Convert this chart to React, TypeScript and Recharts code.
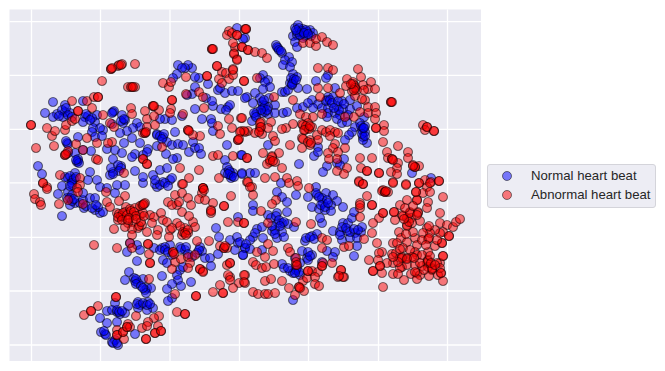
import React from "react";
import { ScatterChart, Scatter, XAxis, YAxis, ZAxis, CartesianGrid } from "recharts";

type P = [number, number];

const normalBeats: P[] = [
[53,102],[45,113],[57,114],[53,117],[65,105],[65,112],[70,113],[63,117],[83,101],[85,117],[88,116],[83,122],[97,115],[95,122],[113,112],[122,115],[125,120],[123,123],[137,123],[140,127],[133,128],[127,131],[120,133],[132,138],[112,124],[103,130],[100,128],[93,128],[92,132],[95,137],[102,136],[78,137],[67,143],[68,153],[75,153],[83,150],[91,151],[78,161],[77,162],[38,166],[42,174],[107,149],[115,150],[124,143],[113,159],[121,166],[122,153],[140,143],[135,154],[132,157],[148,149],[157,134],[163,137],[175,132],[165,119],[172,120],[160,119],[182,116],[166,154],[157,146],[167,142],[172,145],[178,144],[183,145],[193,142],[189,152],[195,148],[199,148],[201,154],[177,158],[173,159],[202,119],[211,119],[212,123],[213,131],[227,145],[225,160],[227,167],[225,173],[230,175],[233,173],[241,155],[242,173],[229,170],[231,178],[213,106],[221,109],[228,107],[230,105],[192,94],[195,87],[187,95],[206,98],[195,109],[218,90],[225,93],[232,91],[238,91],[208,84],[199,78],[192,68],[188,65],[185,68],[178,65],[182,68],[177,74],[173,78],[195,77],[220,88],[237,28],[245,38],[243,39],[157,187],[163,182],[170,180],[143,183],[135,171],[143,177],[153,175],[160,170],[167,168],[172,178],[125,185],[117,185],[113,172],[110,175],[97,180],[90,172],[88,180],[72,180],[68,178],[75,173],[65,177],[62,186],[72,185],[100,187],[107,188],
[295,28],[298,25],[303,29],[310,30],[313,33],[293,36],[297,35],[302,33],[305,36],[311,36],[295,42],[297,47],[303,38],[297,32],[307,32],[276,45],[278,48],[282,53],[289,57],[285,60],[292,62],[283,65],[290,67],[293,74],[297,77],[290,83],[293,82],[298,88],[307,89],[282,92],[285,92],[288,90],[292,85],[328,75],[326,78],[316,81],[263,75],[260,78],[268,80],[265,82],[270,87],[263,89],[255,93],[247,97],[245,98],[260,98],[263,105],[253,103],[275,105],[263,108],[257,112],[255,115],[252,121],[268,107],[268,114],[275,113],[283,113],[287,112],[262,113],[265,112],[269,98],[297,108],[303,107],[312,100],[308,103],[318,104],[322,108],[313,108],[328,97],[333,97],[327,100],[335,88],[342,101],[350,100],[337,106],[343,109],[350,109],[357,106],[328,108],[328,113],[335,113],[327,117],[340,115],[337,119],[348,115],[342,123],[347,122],[364,117],[360,123],[365,126],[355,127],[352,132],[362,130],[365,132],[363,137],[367,143],[363,140],[349,135],[345,140],[268,145],[318,147],[314,156],[318,152],[299,164],[344,159],[337,163],[340,165],[327,166],[323,172],[250,173],[255,173],[242,174],[412,173],[431,178],[281,183],[316,187],[242,155],
[58,194],[68,192],[72,195],[67,198],[75,203],[70,205],[80,203],[83,200],[84,208],[90,198],[95,198],[95,210],[100,213],[103,212],[98,207],[62,216],[115,193],[83,193],[130,243],[137,245],[140,250],[127,252],[137,261],[129,272],[134,278],[125,280],[135,281],[143,279],[138,283],[147,288],[145,290],[151,288],[146,293],[154,248],[162,248],[170,245],[165,247],[180,247],[185,250],[200,247],[202,251],[197,253],[163,260],[167,263],[172,255],[180,270],[183,267],[192,257],[205,258],[210,258],[211,266],[162,276],[177,275],[178,280],[172,284],[167,289],[181,286],[191,282],[172,298],[168,301],[216,228],[219,237],[230,240],[237,237],[238,243],[235,250],[243,255],[218,254],[245,248],[238,217],[115,303],[128,306],[138,302],[140,305],[148,302],[153,308],[147,310],[138,308],[107,311],[112,310],[117,312],[120,314],[125,313],[100,318],[107,323],[117,322],[101,332],[105,334],[135,334],[112,342],[118,345],[115,340],
[308,197],[317,195],[326,193],[333,195],[337,201],[343,207],[312,207],[319,209],[323,203],[325,210],[331,205],[331,211],[322,198],[327,200],[277,192],[282,197],[287,202],[296,195],[253,205],[253,211],[268,215],[277,213],[287,212],[278,223],[282,223],[288,224],[272,231],[275,230],[282,232],[294,227],[277,238],[284,237],[257,229],[253,237],[262,227],[240,242],[245,248],[250,249],[263,238],[262,250],[243,255],[305,241],[312,236],[317,234],[322,223],[320,218],[302,251],[312,255],[307,258],[295,258],[308,260],[300,263],[327,251],[335,252],[333,257],[322,262],[282,264],[290,271],[293,273],[300,275],[297,268],[333,231],[340,232],[343,223],[348,223],[352,218],[354,212],[347,231],[355,233],[361,232],[362,227],[342,240],[350,238],[357,238],[357,246],[354,256],[293,300],[340,235],
[62,110],[66,108],[68,115],[72,117],[59,116],[86,114],[92,118],[90,120],[114,111],[112,113],[121,121],[124,119],[157,135],[160,136],[164,134],[162,139],[68,144],[66,141],[78,159],[79,163],[76,160],[111,168],[118,165],[121,168],[119,171],[113,174],[70,176],[74,179],[72,183],[70,186],[76,177],[143,155],[147,152],[155,184],[160,185],[165,183],[168,186],[155,180],[230,172],[232,176],[228,174],[234,177],[299,28],[302,31],[306,30],[300,35],[304,33],[296,30],[308,34],[277,47],[279,50],[281,51],[291,78],[294,79],[292,84],[296,80],[262,102],[265,106],[267,110],[261,110],[264,100],[254,113],[256,117],[326,101],[330,100],[332,103],[338,101],[344,104],[339,110],[334,108],[361,126],[363,128],[362,134],[365,136],[364,128],[70,198],[72,201],[74,199],[86,206],[92,208],[96,205],[117,310],[119,312],[122,311],[137,304],[143,303],[147,305],[150,304],[106,335],[104,331],[113,343],[117,343],[316,193],[319,197],[321,205],[325,207],[328,203],[271,218],[276,216],[279,220],[284,222],[280,226],[306,238],[310,237],[314,239],[308,252],[310,256],[342,227],[346,228],[350,232],[354,229],[358,230],[296,270],[299,272],[295,273],[136,279],[136,284],[141,286],[143,288],[160,250],[165,250],[168,252],[181,249],[186,247],[188,254],[199,250],[272,226],[275,234],[255,233],[250,240],[246,244],[284,268],[288,268],[212,101],[226,110]
];

const abnormalBeats: P[] = [
[31,125],[36,148],[54,146],[52,136],[55,131],[47,128],[65,130],[66,125],[72,121],[75,119],[72,101],[87,101],[94,97],[98,97],[92,108],[78,111],[103,115],[102,81],[111,69],[118,66],[122,64],[135,64],[128,87],[132,87],[135,87],[131,108],[132,114],[145,111],[153,106],[159,110],[147,119],[154,116],[147,127],[155,125],[145,133],[143,133],[171,109],[172,100],[170,113],[183,114],[163,83],[169,87],[171,82],[186,94],[199,92],[203,97],[204,108],[186,77],[207,76],[217,66],[212,49],[222,72],[226,73],[219,79],[222,83],[229,79],[233,69],[233,75],[244,81],[237,59],[234,53],[235,47],[242,47],[233,43],[248,50],[229,31],[227,35],[232,33],[237,35],[246,29],[188,130],[200,136],[193,135],[218,126],[220,134],[229,119],[241,118],[232,128],[241,131],[248,131],[238,140],[245,132],[213,156],[218,155],[233,156],[247,158],[199,170],[180,168],[189,178],[182,184],[203,188],[219,178],[247,182],[65,155],[68,151],[76,144],[87,138],[97,143],[83,150],[96,159],[98,160],[112,142],[108,143],[110,123],[114,127],[143,159],[147,164],[162,147],[124,173],[60,175],[80,178],[80,185],[77,188],[43,183],[47,187],
[245,29],[242,47],[248,50],[255,52],[262,53],[267,58],[303,43],[310,43],[316,46],[316,39],[322,37],[327,42],[333,45],[318,68],[328,68],[333,70],[358,69],[361,77],[347,79],[353,82],[355,86],[357,90],[352,91],[346,86],[363,85],[371,82],[368,89],[375,89],[364,90],[355,96],[318,88],[328,88],[340,93],[320,97],[365,100],[362,99],[293,100],[391,102],[368,107],[375,107],[368,113],[376,113],[360,112],[322,114],[345,117],[354,117],[375,119],[244,81],[257,78],[274,97],[300,114],[306,117],[313,117],[261,122],[271,122],[242,118],[302,124],[308,123],[312,127],[305,130],[308,128],[293,124],[286,128],[282,129],[273,136],[275,141],[260,127],[260,130],[255,133],[262,134],[244,131],[240,132],[268,128],[302,138],[310,140],[317,135],[322,130],[318,140],[310,145],[302,148],[290,145],[326,132],[330,130],[335,132],[338,133],[330,136],[335,144],[333,148],[345,148],[376,128],[384,125],[384,131],[383,142],[398,146],[423,125],[427,127],[434,131],[425,130],[408,152],[408,158],[387,152],[388,158],[392,159],[398,163],[397,168],[391,172],[397,174],[413,165],[419,166],[415,167],[360,158],[372,158],[361,168],[367,171],[379,173],[328,153],[329,159],[338,152],[337,159],[347,168],[337,171],[344,174],[263,153],[272,156],[279,153],[270,162],[267,164],[275,162],[282,168],[247,158],[265,178],[275,177],[287,178],[289,183],[297,181],[298,186],[309,188],[359,181],[363,184],[393,182],[406,184],[419,183],[425,180],[431,182],[439,181],[427,187],[383,190],[248,182],[252,187],
[34,194],[35,199],[40,202],[41,205],[59,204],[78,192],[68,200],[83,204],[106,192],[125,196],[107,202],[110,207],[119,201],[126,207],[43,183],[47,189],[117,213],[122,217],[118,220],[125,212],[130,209],[135,208],[142,205],[145,203],[133,215],[133,222],[140,215],[143,213],[128,223],[138,228],[142,225],[132,229],[114,229],[132,235],[125,227],[147,232],[150,215],[154,217],[161,213],[152,223],[158,230],[163,220],[167,222],[170,230],[177,223],[182,235],[188,233],[185,228],[193,222],[195,227],[157,235],[169,237],[182,212],[189,216],[177,205],[168,202],[172,205],[175,195],[182,193],[188,198],[191,205],[179,202],[183,184],[203,188],[202,193],[199,199],[205,200],[213,203],[211,210],[211,213],[224,206],[231,196],[228,222],[238,222],[244,223],[197,241],[209,241],[94,245],[117,248],[148,244],[149,254],[150,263],[130,243],[132,248],[173,252],[175,262],[181,259],[188,257],[190,263],[188,268],[195,255],[172,269],[200,269],[203,271],[149,279],[220,246],[224,248],[227,248],[230,263],[227,265],[230,277],[228,275],[230,280],[239,283],[245,275],[245,283],[233,288],[220,285],[213,292],[223,293],[196,296],[175,294],[116,297],[98,306],[91,311],[84,315],[177,312],[185,314],[136,316],[159,316],[154,318],[148,322],[142,328],[147,326],[158,326],[155,333],[161,331],[146,339],[117,330],[123,332],[127,327],[128,324],[117,335],[124,339],[130,327],
[253,195],[250,187],[261,211],[276,200],[272,204],[244,223],[268,223],[296,222],[311,224],[268,244],[273,251],[288,248],[290,252],[257,252],[265,257],[253,262],[256,265],[262,268],[266,267],[274,264],[244,275],[244,282],[265,281],[271,279],[282,281],[289,288],[253,292],[258,294],[265,294],[268,294],[275,293],[295,295],[299,287],[304,291],[303,281],[307,278],[296,265],[308,271],[312,271],[318,272],[315,277],[322,266],[323,263],[332,263],[315,284],[319,286],[341,270],[338,277],[344,277],[322,238],[327,240],[322,248],[344,247],[349,246],[364,239],[360,203],[360,208],[360,217],[367,196],[372,205],[359,182],[363,184],[382,191],[385,192],[388,192],[383,213],[379,218],[373,223],[372,233],[377,243],[393,183],[406,185],
[394,212],[400,205],[402,215],[395,220],[407,200],[417,200],[416,192],[423,193],[430,192],[419,183],[430,183],[439,181],[443,197],[428,202],[427,208],[418,212],[410,212],[407,218],[411,218],[420,221],[407,225],[412,223],[440,213],[427,228],[440,223],[447,225],[453,227],[456,222],[460,219],[449,236],[443,232],[440,233],[435,230],[430,233],[423,233],[415,238],[413,232],[399,232],[401,238],[407,242],[417,245],[428,239],[422,240],[435,246],[442,243],[393,243],[397,243],[403,248],[392,254],[396,253],[415,252],[410,250],[428,252],[382,252],[379,253],[417,255],[422,255],[443,256],[428,260],[427,263],[440,263],[437,263],[432,268],[402,257],[412,257],[407,258],[400,258],[393,263],[387,263],[378,260],[369,260],[380,266],[373,271],[382,273],[402,267],[407,265],[400,268],[415,265],[422,266],[428,267],[432,270],[441,273],[411,274],[417,273],[420,275],[429,276],[438,275],[393,274],[398,274],[417,279],[404,280],[443,281],[383,287],[440,268],[420,263],[415,272],
[119,65],[121,65],[131,87],[133,87],[212,49],[213,49],[31,125],[65,155],[66,154],[111,69],[112,68],[153,106],[154,106],[172,100],[78,111],[98,97],[143,159],[147,164],[145,133],[146,132],[188,130],[189,131],[217,66],[207,76],[238,140],[239,139],[233,70],[237,35],[246,29],[234,54],[237,60],[376,128],[391,102],[392,102],[427,127],[434,131],[392,159],[393,160],[415,167],[413,166],[379,173],[367,171],[353,84],[355,88],[354,90],[351,84],[303,125],[306,126],[309,129],[304,130],[310,126],[303,139],[308,142],[311,143],[260,123],[261,127],[259,132],[272,157],[270,160],[273,161],[119,214],[121,216],[123,213],[127,215],[118,217],[122,220],[131,211],[134,212],[136,216],[129,218],[140,206],[143,205],[144,204],[128,220],[139,226],[141,222],[136,219],[144,216],[180,226],[183,232],[185,233],[188,230],[186,235],[172,228],[203,188],[204,190],[211,211],[224,206],[150,263],[148,244],[173,252],[174,254],[200,269],[203,272],[224,248],[225,246],[230,263],[223,293],[196,296],[185,314],[146,339],[155,333],[161,331],[117,335],[123,332],[127,327],[116,297],[91,311],[296,258],[296,262],[297,265],[308,271],[299,287],[300,288],[322,266],[341,270],[343,277],[339,276],[360,205],[372,205],[385,192],[386,191],[383,213],[394,212],[417,200],[416,192],[403,216],[410,213],[418,213],[407,226],[409,222],[404,219],[417,215],[429,238],[402,258],[407,259],[428,261],[432,269],[430,256],[431,263],[435,265],[443,256],[373,271],[380,266],[442,243],[449,236],[441,273],[405,208],[413,206],[398,262],[424,270],[414,258],[426,245],[437,240],[429,226],[406,234],[400,249],[393,257]
];

const xTicks = [31.5, 100.5, 170, 239.5, 308.5, 378.5, 447.5];
const yTicks = [21.7, 75.3, 129.3, 182.8, 237.3, 291, 345];
const seriesNames = ["Normal heart beat", "Abnormal heart beat"];

const toRows = (pts: P[]) => pts.map(([x, y]) => ({ x, y }));
const NoTick = () => <g />;

function LegendRow({ name, color }: { name: string; color: string }) {
  return (
    <div style={{ display: "flex", alignItems: "center", height: 19 }}>
      <svg width={12} height={12} style={{ marginLeft: 13, marginRight: 18 }}>
        <circle cx={6} cy={6} r={4.5} fill={color} fillOpacity={0.5} stroke="#000" strokeOpacity={0.5} />
      </svg>
      <span>{name}</span>
    </div>
  );
}

export default function App() {
  return (
    <div style={{ position: "absolute", left: 0, top: 0, width: 665, height: 371, background: "#fff" }}>
      <ScatterChart width={665} height={371} margin={{ left: 9.5, top: 9.5, right: 184, bottom: 10 }}>
        <CartesianGrid fill="#EAEAF2" stroke="#fff" strokeWidth={1.3} syncWithTicks />
        <XAxis type="number" dataKey="x" domain={[9.5, 481]} ticks={xTicks} interval={0} tick={NoTick} tickLine={false} axisLine={false} height={0} allowDataOverflow />
        <YAxis type="number" dataKey="y" domain={[9.5, 361]} ticks={yTicks} interval={0} reversed tick={NoTick} tickLine={false} axisLine={false} width={0} allowDataOverflow />
        <ZAxis range={[72, 72]} />
        <Scatter name={seriesNames[0]} data={toRows(normalBeats)} fill="#0000ff" fillOpacity={0.5} stroke="#000" strokeOpacity={0.5} strokeWidth={1.2} isAnimationActive={false} />
        <Scatter name={seriesNames[1]} data={toRows(abnormalBeats)} fill="#ff0000" fillOpacity={0.5} stroke="#000" strokeOpacity={0.5} strokeWidth={1.2} isAnimationActive={false} />
      </ScatterChart>
      <div style={{ position: "absolute", left: 487, top: 164, width: 167, height: 41, boxSizing: "content-box", background: "#EDEDF4", border: "1px solid #d4d4da", borderRadius: 3, fontFamily: "'Liberation Sans', Arial, sans-serif", fontSize: 13.2, color: "#262626", paddingTop: 1 }}>
        <LegendRow name={seriesNames[0]} color="#0000ff" />
        <LegendRow name={seriesNames[1]} color="#ff0000" />
      </div>
    </div>
  );
}
